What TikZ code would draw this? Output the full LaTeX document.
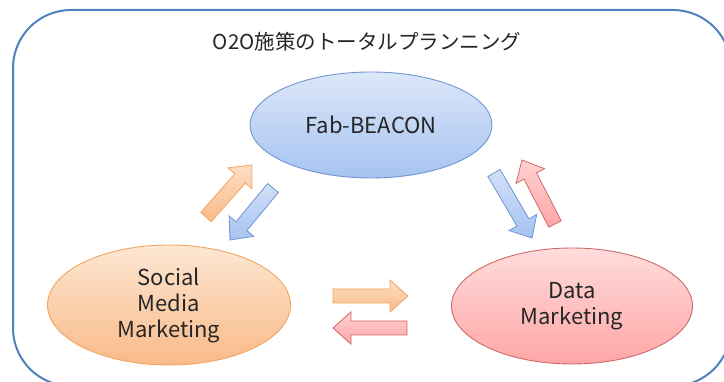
\documentclass[tikz,border=0pt]{standalone}
\usepackage{fontspec}
\setmainfont{Noto Sans CJK JP}
\usetikzlibrary{calc,shapes.geometric}
\definecolor{frameblue}{HTML}{4F81BD}
\definecolor{txt}{HTML}{262626}
\definecolor{bTop}{HTML}{DCE7F9}\definecolor{bBot}{HTML}{A6C3F1}\definecolor{bLine}{HTML}{7196D2}
\definecolor{oTop}{HTML}{FDE7D3}\definecolor{oBot}{HTML}{F9BA88}\definecolor{oLine}{HTML}{F4A460}
\definecolor{rTop}{HTML}{FFDCDC}\definecolor{rBot}{HTML}{FFA6A6}\definecolor{rLine}{HTML}{CF6A6A}
\tikzset{
  ell/.style={ellipse, inner sep=0pt, line width=0.9pt, text=txt, align=center,
     font=\fontsize{22}{26}\selectfont},
  ellblue/.style={ell, draw=bLine, top color=bTop, bottom color=bBot},
  ellorange/.style={ell, draw=oLine, top color=oTop, bottom color=oBot},
  ellred/.style={ell, draw=rLine, top color=rTop, bottom color=rBot},
  arrblue/.style={draw=bLine, line width=0.8pt, top color=bTop!80!bBot, bottom color=bBot, line join=miter},
  arrorange/.style={draw=oLine, line width=0.8pt, top color=oTop!80!oBot, bottom color=oBot, line join=miter},
  arrred/.style={draw=rLine, line width=0.8pt, top color=rTop!80!rBot, bottom color=rBot, line join=miter},
}
% block arrow from #2 to #3, style #1
\newcommand\blockarr[3]{%
  \path ($(#3)!18pt!(#2)$) coordinate (h@)
        ($(#2)!7pt!90:(#3)$) coordinate (p1@)
        ($(#2)!7pt!-90:(#3)$) coordinate (p7@)
        ($(h@)!7pt!-90:(#2)$) coordinate (p2@)
        ($(h@)!16pt!-90:(#2)$) coordinate (p3@)
        ($(h@)!16pt!90:(#2)$) coordinate (p5@)
        ($(h@)!7pt!90:(#2)$) coordinate (p6@);
  \path[#1] (p1@) -- (p2@) -- (p3@) -- (#3) -- (p5@) -- (p6@) -- (p7@) -- cycle;}
\begin{document}
\begin{tikzpicture}[x=1pt,y=-1pt]
\useasboundingbox (0,0) rectangle (724,382);
\clip (0,0) rectangle (724,382);
\fill[white] (0,0) rectangle (724,382);
\draw[frameblue, line width=2pt, rounded corners=58pt] (13,10) rectangle (731,386);
\node[text=txt, font=\fontsize{20.5}{24}\selectfont] (title) at (367,42) {O2O施策のトータルプランニング};
\node[ellblue, minimum width=242pt, minimum height=106pt] (fab) at (371,125) {Fab-BEACON};
\node[ellorange, minimum width=243pt, minimum height=120pt] (smm) at (169,305) {Social\\Media\\Marketing};
\node[ellred, minimum width=241pt, minimum height=116pt] (dm) at (572,306) {Data\\Marketing};
% arrow end points
\coordinate (a1s) at (206,217); \coordinate (a1e) at (252,165);
\coordinate (a2s) at (273,188); \coordinate (a2e) at (230,240);
\coordinate (a3s) at (494,173); \coordinate (a3e) at (532,238);
\coordinate (a4s) at (555,224); \coordinate (a4e) at (522,160);
\coordinate (a5s) at (333,296); \coordinate (a5e) at (408,296);
\coordinate (a6s) at (407,328); \coordinate (a6e) at (333,328);
\blockarr{arrorange}{a1s}{a1e}
\blockarr{arrblue}{a2s}{a2e}
\blockarr{arrblue}{a3s}{a3e}
\blockarr{arrred}{a4s}{a4e}
\blockarr{arrorange}{a5s}{a5e}
\blockarr{arrred}{a6s}{a6e}
\end{tikzpicture}
\end{document}
